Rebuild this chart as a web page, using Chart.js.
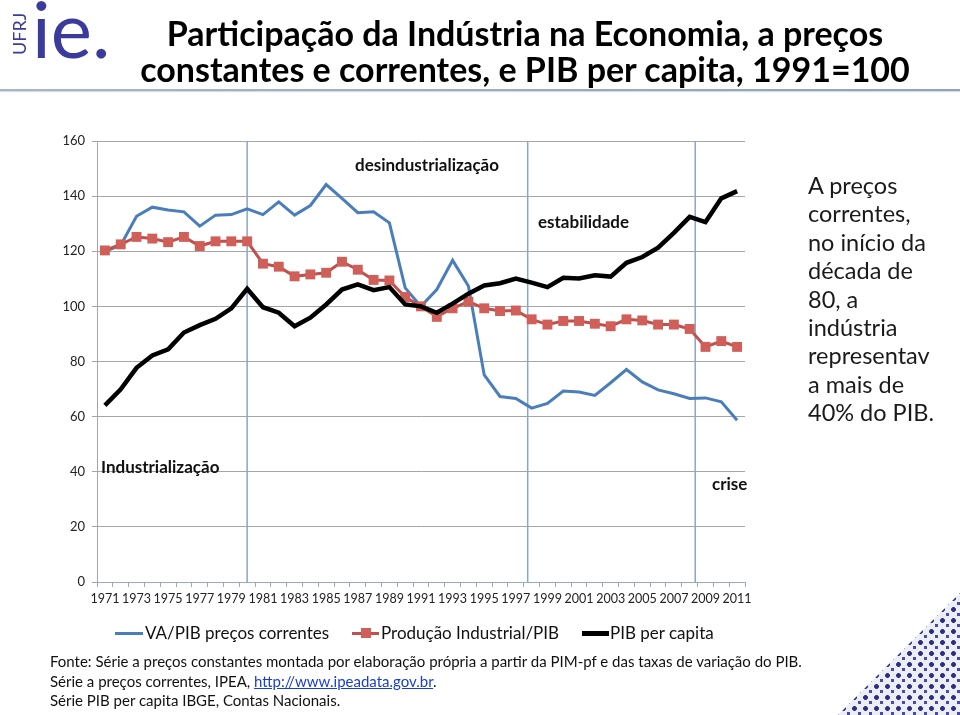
<!DOCTYPE html>
<html>
<head>
<meta charset="utf-8">
<script src="https://cdn.jsdelivr.net/npm/chart.js@4/dist/chart.umd.min.js"></script>
<style>
  body { margin: 0; width: 960px; height: 715px; background: #fff; position: relative; overflow: hidden; font-family: Lato, "Open Sans", sans-serif; color: #111; }
  #myChart { position: absolute; left: 0; top: 0; }
  .abs { position: absolute; white-space: nowrap; }
  #title { left: 90px; width: 870px; top: 15px; text-align: center; font-weight: bold; font-size: 34px; line-height: 36px; color: #000; }
  #rule { left: 0; top: 89px; width: 960px; height: 2px; background: linear-gradient(to right, #aab6c4, #8ea3bb); box-shadow: 0 1px 1px #d0d8e0; }
  #side { left: 808px; top: 171px; font-size: 23.5px; line-height: 28.4px; color: #1a1a1a; }
  .note { font-weight: bold; font-size: 17px; line-height: 20px; color: #111; }
  .leg { top: 623px; font-size: 17px; line-height: 20px; color: #111; }
  .sw { position: absolute; }
  #source { left: 50px; top: 652px; font-size: 15px; line-height: 19.5px; color: #111; }
  #source a { color: #1a3fd0; text-decoration: underline; }
  #corner { left: 838px; top: 593px; width: 122px; height: 122px; clip-path: polygon(100% 0, 100% 100%, 0 100%);
    background-color: #eceef6;
    background-image: radial-gradient(circle, #2d2d82 28%, transparent 31%), radial-gradient(circle, #4a4aa0 22%, transparent 25%);
    background-size: 11px 11px, 11px 11px; background-position: 0 0, 5px 5px; }
</style>
</head>
<body>
<canvas id="myChart" width="960" height="715"></canvas>

<svg class="abs" style="left:0;top:0" width="140" height="80">
  <text x="26" y="55" transform="rotate(-90 26 55)" font-family="Lato, sans-serif" font-size="18" fill="#3b3b9c">UFRJ</text>
  <text x="32" y="58" font-family="Lato, sans-serif" font-size="78" fill="#3b3b9c">ie.</text>
</svg>

<div id="title" class="abs">Participação da Indústria na Economia, a preços<br>constantes e correntes, e PIB per capita, 1991=100</div>
<div id="rule" class="abs"></div>

<div id="side" class="abs">A preços<br>correntes,<br>no início da<br>década de<br>80, a<br>indústria<br>representav<br>a mais de<br>40% do PIB.</div>

<div class="abs note" style="left:355px;top:155px">desindustrialização</div>
<div class="abs note" style="left:538px;top:212px">estabilidade</div>
<div class="abs note" style="left:101px;top:457px">Industrialização</div>
<div class="abs note" style="left:712px;top:474px">crise</div>

<div class="abs leg" style="left:115px"><span class="sw" style="left:0;top:9px;width:28px;height:3px;background:#4a7ebb"></span><span style="margin-left:30px">VA/PIB preços correntes</span></div>
<div class="abs leg" style="left:352px"><span class="sw" style="left:0;top:9px;width:27px;height:3px;background:#c0504d"></span><span class="sw" style="left:9px;top:5px;width:10px;height:10px;background:#cf5f58"></span><span style="margin-left:29px">Produção Industrial/PIB</span></div>
<div class="abs leg" style="left:582px"><span class="sw" style="left:0;top:8px;width:27px;height:4.5px;background:#000"></span><span style="margin-left:28px">PIB per capita</span></div>

<div id="source" class="abs">Fonte: Série a preços constantes montada por elaboração própria a partir da PIM-pf e das taxas de variação do PIB.<br>Série a preços correntes, IPEA, <a>http://www.ipeadata.gov.br</a>.<br>Série PIB per capita IBGE, Contas Nacionais.</div>

<div id="corner" class="abs"></div>

<script>
const years = [];
for (let y = 1971; y <= 2011; y++) years.push(String(y));

// VA/PIB a preços correntes
const vaPib = [120.0, 122.2, 132.7, 136.0, 135.0, 134.3, 129.1, 133.1, 133.3, 135.4,
  133.3, 137.9, 133.1, 136.6, 144.2, 139.2, 134.0, 134.3, 130.3, 106.7,
  100.0, 106.1, 116.7, 107.4, 75.1, 67.3, 66.6, 63.1, 64.8, 69.3,
  68.9, 67.7, 72.3, 77.1, 72.6, 69.7, 68.3, 66.6, 66.8, 65.4, 58.7];

// Produção Industrial/PIB
const prodInd = [120.3, 122.5, 125.2, 124.6, 123.3, 125.2, 121.9, 123.6, 123.6, 123.6,
  115.5, 114.4, 110.9, 111.6, 112.2, 116.2, 113.3, 109.6, 109.4, 103.4,
  100.0, 96.2, 99.3, 101.7, 99.3, 98.3, 98.5, 95.3, 93.4, 94.7,
  94.7, 93.7, 92.8, 95.3, 94.9, 93.4, 93.4, 91.8, 85.3, 87.4, 85.3];

// PIB per capita
const pibPc = [64.1, 69.9, 77.7, 82.2, 84.4, 90.5, 93.2, 95.5, 99.3, 106.4,
  99.7, 97.7, 92.8, 95.9, 100.7, 106.1, 108.0, 105.9, 107.0, 100.7,
  100.0, 97.7, 101.0, 104.6, 107.6, 108.4, 110.1, 108.6, 107.0, 110.4,
  110.1, 111.3, 110.8, 115.8, 117.9, 121.3, 126.7, 132.5, 130.6, 139.2, 141.8];

// period dividers, as fractional category positions
const dividers = [1980, 1997.75, 2008.35];

const dividerPlugin = {
  id: 'dividers',
  beforeDatasetsDraw(chart) {
    const { ctx, chartArea, scales } = chart;
    ctx.save();
    ctx.strokeStyle = '#8aa6c8';
    ctx.lineWidth = 1.5;
    dividers.forEach(yr => {
      const x = scales.x.getPixelForValue(yr - 1971);
      ctx.beginPath();
      ctx.moveTo(x, chartArea.top);
      ctx.lineTo(x, chartArea.bottom);
      ctx.stroke();
    });
    ctx.restore();
  }
};

const ctx = document.getElementById('myChart').getContext('2d');
const chart = new Chart(ctx, {
  type: 'line',
  data: {
    labels: years,
    datasets: [{
      label: 'VA/PIB preços correntes',
      data: vaPib,
      borderColor: '#4a7ebb',
      borderWidth: 3,
      pointRadius: 0,
      order: 3
    }, {
      label: 'Produção Industrial/PIB',
      data: prodInd,
      borderColor: '#c0504d',
      borderWidth: 3,
      pointStyle: 'rect',
      pointRadius: 7,
      pointBackgroundColor: '#cf5f58',
      pointBorderColor: '#cf5f58',
      pointBorderWidth: 0,
      order: 2
    }, {
      label: 'PIB per capita',
      data: pibPc,
      borderColor: '#000',
      borderWidth: 4.5,
      pointRadius: 0,
      order: 1
    }]
  },
  options: {
    responsive: false,
    animation: false,
    layout: { padding: { left: 57, top: 141, right: 215, bottom: 103 } },
    plugins: {
      legend: { display: false },
      tooltip: { enabled: false }
    },
    scales: {
      x: {
        offset: true,
        afterFit: s => { s.height = 30; },
        grid: { offset: true, drawOnChartArea: false, drawTicks: true, tickLength: 5, color: '#9aabbf' },
        border: { color: '#9aabbf', width: 1 },
        ticks: {
          autoSkip: false, maxRotation: 0, minRotation: 0, padding: 4,
          color: '#222', font: { family: 'Lato', size: 12.5 },
          callback: (v, i) => i % 2 === 0 ? years[i] : ''
        }
      },
      y: {
        min: 0, max: 160,
        afterFit: s => { s.width = 40; },
        grid: { color: '#a6a6a6', tickLength: 5 },
        border: { color: '#a6a6a6', width: 1 },
        ticks: { stepSize: 20, padding: 7, color: '#222', font: { family: 'Lato', size: 13 } }
      }
    }
  },
  plugins: [dividerPlugin]
});
</script>
</body>
</html>
